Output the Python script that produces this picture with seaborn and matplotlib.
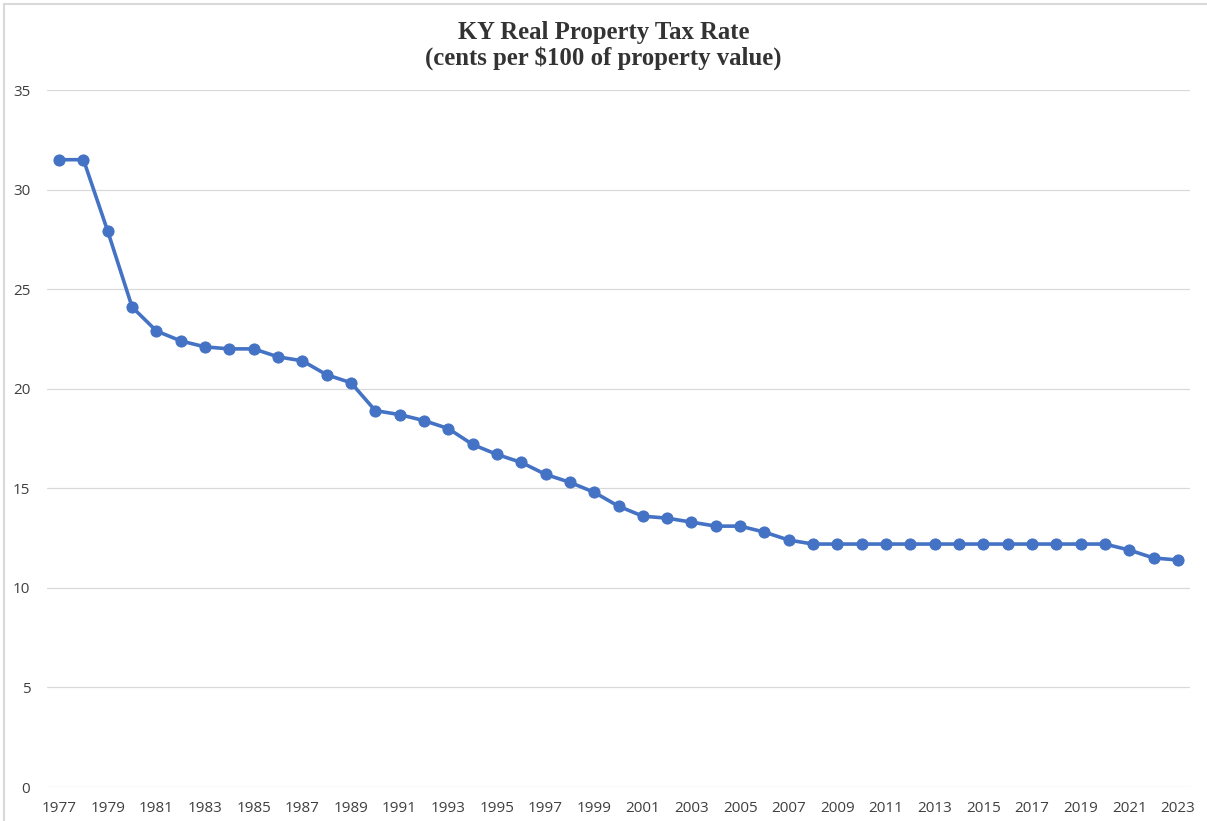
import matplotlib
matplotlib.use("Agg")
import matplotlib.pyplot as plt
import seaborn as sns
import pandas as pd
from matplotlib.lines import Line2D

years = list(range(1977, 2024))
rates = [31.5, 31.5, 27.9, 24.1, 22.9, 22.4, 22.1, 22.0, 22.0, 21.6,
         21.4, 20.7, 20.3, 18.9, 18.7, 18.4, 18.0, 17.2, 16.7, 16.3,
         15.7, 15.3, 14.8, 14.1, 13.6, 13.5, 13.3, 13.1, 13.1, 12.8,
         12.4, 12.2, 12.2, 12.2, 12.2, 12.2, 12.2, 12.2, 12.2, 12.2,
         12.2, 12.2, 12.2, 12.2, 11.9, 11.5, 11.4]
x_tick_labels = [str(y) for y in range(1977, 2024, 2)]
y_ticks = [0, 5, 10, 15, 20, 25, 30, 35]

df = pd.DataFrame({"year": years, "rate": rates})

sns.set_style("white")
plt.rcParams['font.family'] = ['Open Sans', 'DejaVu Sans']

fig = plt.figure(figsize=(12.07, 8.21), dpi=100)
ax = fig.add_axes([47/1207, 1-787/821, (1190-47)/1207, (787-90)/821])

sns.lineplot(data=df, x="year", y="rate", ax=ax, color="#4472C4",
             linewidth=2.6, marker="o", markersize=8,
             markeredgecolor="#4472C4", markerfacecolor="#4472C4", zorder=3)

ax.set_xlim(1976.5, 2023.5)
ax.set_ylim(0, 35)
ax.set_yticks(y_ticks)
ax.set_yticklabels([str(v) for v in y_ticks])
ax.set_xticks([int(s) for s in x_tick_labels])
ax.set_xticklabels(x_tick_labels)
ax.yaxis.grid(True, color="#D9D9D9", linewidth=0.9)
ax.xaxis.grid(False)
for s in ax.spines.values():
    s.set_visible(False)
ax.tick_params(axis="both", length=0, labelsize=11, labelcolor="#404040")
ax.tick_params(axis="y", pad=12)
ax.tick_params(axis="x", pad=10)
ax.set_xlabel("")
ax.set_ylabel("")

fig.text(0.5, 1-33/821, "KY Real Property Tax Rate", ha="center", va="center",
         family="Liberation Serif", fontweight="bold", fontsize=17.8, color="#333333")
fig.text(0.5, 1-58/821, "(cents per $100 of property value)", ha="center", va="center",
         family="Liberation Serif", fontweight="bold", fontsize=17.8, color="#333333")

fig.lines.append(Line2D([4/1207, 1], [1-4/821, 1-4/821], transform=fig.transFigure,
                        color="#D9D9D9", linewidth=1.5))
fig.lines.append(Line2D([4/1207, 4/1207], [0, 1-4/821], transform=fig.transFigure,
                        color="#D9D9D9", linewidth=1.5))

fig.savefig("out.png", dpi=100)
